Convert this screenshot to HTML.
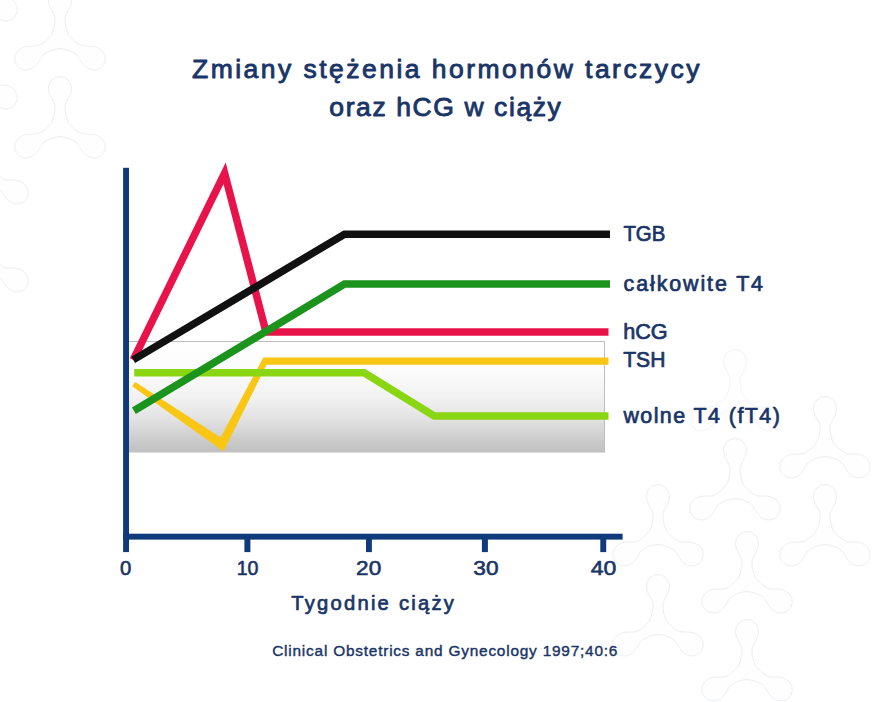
<!DOCTYPE html>
<html lang="pl">
<head>
<meta charset="utf-8">
<title>Zmiany stężenia hormonów tarczycy oraz hCG w ciąży</title>
<style>
  html,body{margin:0;padding:0;background:#ffffff;}
  body{width:890px;height:702px;overflow:hidden;font-family:"Liberation Sans",sans-serif;}
  svg{display:block;}
  text{font-family:"Liberation Sans",sans-serif;font-weight:normal;fill:#1a3567;stroke:#1a3567;stroke-linejoin:round;}
  .title{font-size:26.5px;stroke-width:0.9px;}
  .leg{font-size:21.4px;stroke-width:0.72px;}
  .num{font-size:19.8px;stroke-width:0.58px;}
  .xl{font-size:20.2px;stroke-width:0.7px;}
  .cite{font-size:15.4px;stroke-width:0.42px;}
  .ln{fill:none;stroke-width:7.5;stroke-linejoin:miter;stroke-linecap:butt;stroke-miterlimit:10;}
</style>
</head>
<body>
<svg width="890" height="702" viewBox="0 0 890 702">
  <defs>
    <linearGradient id="band" x1="0" y1="0" x2="0" y2="1">
      <stop offset="0" stop-color="#fefefe"/>
      <stop offset="0.25" stop-color="#fcfcfc"/>
      <stop offset="0.5" stop-color="#f2f2f2"/>
      <stop offset="0.7" stop-color="#e2e2e2"/>
      <stop offset="0.85" stop-color="#d0d0d0"/>
      <stop offset="1" stop-color="#bfbfbf"/>
    </linearGradient>
    <path id="tri" d="M-8.2 -4.7C-5.6 -11.0 -5.0 -15.0 -5.0 -20.0C-5.0 -26.0 -11.5 -30.0 -11.5 -39.0A11.5 11.5 0 0 1 11.5 -39.0C11.5 -30.0 5.0 -26.0 5.0 -20.0C5.0 -15.0 5.6 -11.0 8.2 -4.7C12.3 0.7 15.5 3.2 19.8 5.7C25.0 8.7 31.7 5.0 39.5 9.5A11.5 11.5 0 0 1 28.0 29.5C20.2 25.0 20.0 17.3 14.8 14.3C10.5 11.8 6.7 10.3 0.0 9.5C-6.7 10.3 -10.5 11.8 -14.8 14.3C-20.0 17.3 -20.2 25.0 -28.0 29.5A11.5 11.5 0 0 1 -39.5 9.5C-31.7 5.0 -25.0 8.7 -19.8 5.7C-15.5 3.2 -12.3 0.7 -8.2 -4.7Z"/>
  </defs>

  <rect x="0" y="0" width="890" height="702" fill="#ffffff"/>

  <!-- faint background pattern -->
  <g fill="#fefefe" stroke="#ebeef2" stroke-width="1">
    <use href="#tri" x="-28" y="-10"/>
    <use href="#tri" x="-28" y="78"/>
    <use href="#tri" x="-17" y="173"/>
    <use href="#tri" x="-17" y="261"/>
    <use href="#tri" x="60" y="39"/>
    <use href="#tri" x="60" y="127"/>
    <use href="#tri" x="735" y="400" opacity="0.6"/>
    <use href="#tri" x="735" y="489"/>
    <use href="#tri" x="747" y="582"/>
    <use href="#tri" x="747" y="670"/>
    <use href="#tri" x="825" y="447"/>
    <use href="#tri" x="825" y="535"/>
    <use href="#tri" x="658" y="535"/>
    <use href="#tri" x="658" y="625"/>
  </g>

  <!-- title -->
  <text class="title" x="192" y="78" textLength="507.5" lengthAdjust="spacing">Zmiany stężenia hormonów tarczycy</text>
  <text class="title" x="329.3" y="116" textLength="231.5" lengthAdjust="spacing">oraz hCG w ciąży</text>

  <!-- reference band -->
  <rect x="129" y="341.5" width="475.5" height="111" fill="url(#band)"/>
  <path d="M129 341.5H604.5V452.5" fill="none" stroke="#bcbebe" stroke-width="1"/>

  <!-- data lines -->
  <path fill="#f9c614" d="M135.2 382.1L220.6 437.6L263.3 357.55H608.5V364.85H266.5L223.5 451.4L132.2 386.3Z"/>
  <path class="ln" stroke="#e9134c" stroke-width="7.2" d="M133.2 359.9L224.6 173.3L266 332H608.5"/>
  <path class="ln" stroke="#8bd612" d="M134.2 372.8H364.2L434.2 416H608.5"/>
  <path class="ln" stroke="#111111" d="M133.2 359.9L344.5 234.2H610"/>
  <path class="ln" stroke="#1b931c" d="M133.9 410.8L344.5 284.1H610"/>

  <!-- axes -->
  <g fill="#0f3b7d">
    <rect x="123.1" y="167.8" width="5.9" height="384.3"/>
    <rect x="123.1" y="533.7" width="499.5" height="5.9"/>
    <rect x="244.4" y="536" width="6" height="16.1"/>
    <rect x="366" y="536" width="5.9" height="16.1"/>
    <rect x="481.9" y="536" width="6" height="16.1"/>
    <rect x="600.3" y="536" width="5.9" height="16.1"/>
  </g>

  <!-- axis numbers -->
  <text class="num" x="120" y="574.8" textLength="11.3" lengthAdjust="spacingAndGlyphs">0</text>
  <text class="num" x="236.7" y="574.8" textLength="21.8" lengthAdjust="spacingAndGlyphs">10</text>
  <text class="num" x="356.1" y="574.8" textLength="25.1" lengthAdjust="spacingAndGlyphs">20</text>
  <text class="num" x="473.3" y="574.8" textLength="25.2" lengthAdjust="spacingAndGlyphs">30</text>
  <text class="num" x="590.8" y="574.8" textLength="25.6" lengthAdjust="spacingAndGlyphs">40</text>

  <!-- x label + citation -->
  <text class="xl" x="291.3" y="610" textLength="162.5" lengthAdjust="spacing">Tygodnie ciąży</text>
  <text class="cite" x="272.2" y="656.4" textLength="345.2" lengthAdjust="spacing">Clinical Obstetrics and Gynecology 1997;40:6</text>

  <!-- legend labels -->
  <text class="leg" x="623.4" y="240.5" textLength="42" lengthAdjust="spacingAndGlyphs">TGB</text>
  <text class="leg" x="623.6" y="291" textLength="139.4" lengthAdjust="spacing">całkowite T4</text>
  <text class="leg" x="623.2" y="338.5" textLength="44.5" lengthAdjust="spacingAndGlyphs">hCG</text>
  <text class="leg" x="623.2" y="367" textLength="42.2" lengthAdjust="spacingAndGlyphs">TSH</text>
  <text class="leg" x="623.4" y="422.9" textLength="156.4" lengthAdjust="spacing">wolne T4 (fT4)</text>
</svg>
</body>
</html>
